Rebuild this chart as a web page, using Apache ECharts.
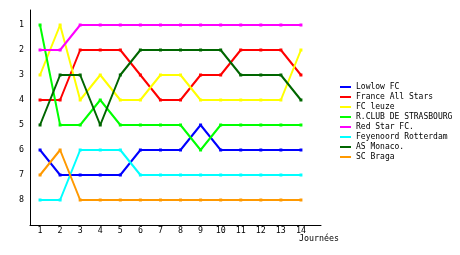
<!DOCTYPE html>
<html><head><meta charset="utf-8">
<script src="https://cdn.jsdelivr.net/npm/echarts@6/dist/echarts.min.js"></script>
<style>html,body{margin:0;padding:0;background:#fff}#c{width:460px;height:255px}</style>
</head><body><div id="c"></div>
<script>
const journees = [1,2,3,4,5,6,7,8,9,10,11,12,13,14];
const ranks = [1,2,3,4,5,6,7,8];
const teams = ["Lowlow FC","France All Stars","FC leuze","R.CLUB DE STRASBOURG","Red Star FC.","Feyenoord Rotterdam","AS Monaco.","SC Braga"];
const lowlow     = [6,7,7,7,7,6,6,6,5,6,6,6,6,6];
const france     = [4,4,2,2,2,3,4,4,3,3,2,2,2,3];
const leuze      = [3,1,4,3,4,4,3,3,4,4,4,4,4,2];
const strasbourg = [1,5,5,4,5,5,5,5,6,5,5,5,5,5];
const redstar    = [2,2,1,1,1,1,1,1,1,1,1,1,1,1];
const feyenoord  = [8,8,6,6,6,7,7,7,7,7,7,7,7,7];
const monaco     = [5,3,3,5,3,2,2,2,2,2,3,3,3,4];
const braga      = [7,6,8,8,8,8,8,8,8,8,8,8,8,8];
const values = [lowlow,france,leuze,strasbourg,redstar,feyenoord,monaco,braga];
const colors = ["#0000ff","#ff0000","#ffff00","#00ff00","#ff00ff","#00ffff","#006600","#ff9900"];
const FONT = {fontFamily:"DejaVu Sans Mono", fontSize:8.3, color:"#000"};

const chart = echarts.init(document.getElementById('c'), null, {renderer:'canvas'});
chart.setOption({
  animation:false,
  backgroundColor:'#fff',
  grid:{left:30, right:139, top:10, bottom:30},
  legend:{
    orient:'vertical', left:340, top:82, padding:0, itemGap:0, itemWidth:11, itemHeight:2,
    icon:'rect', data:teams,
    textStyle:Object.assign({}, FONT, {fontSize:8, lineHeight:10}),
    itemStyle:{borderWidth:0}
  },
  xAxis:{
    type:'value', min:0.5, max:15,
    name:'Journées', nameLocation:'end', nameGap:-2,
    nameTextStyle:Object.assign({align:'center', verticalAlign:'top', padding:[10,0,0,0]}, FONT),
    axisLine:{show:true, onZero:false, lineStyle:{color:'#000', width:1}},
    axisTick:{show:false},
    splitLine:{show:false},
    axisLabel:Object.assign({customValues:journees, margin:2}, FONT)
  },
  yAxis:{
    type:'value', inverse:true, min:0.4, max:9,
    axisLine:{show:true, onZero:false, lineStyle:{color:'#000', width:1}},
    axisTick:{show:false},
    splitLine:{show:false},
    axisLabel:Object.assign({customValues:ranks, margin:6}, FONT)
  },
  series: teams.map((t,i)=>({
    name:t, type:'line',
    data: journees.map((d,j)=>[d, values[i][j]]),
    symbol:'rect', symbolSize:3, showSymbol:true,
    lineStyle:{color:colors[i], width:2},
    itemStyle:{color:colors[i], borderWidth:0},
    color:colors[i]
  }))
});
</script></body></html>
